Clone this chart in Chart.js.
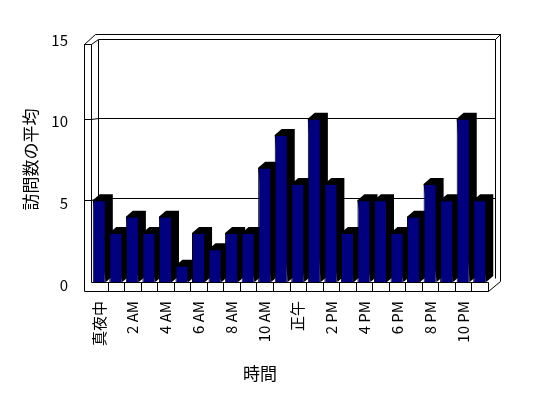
<!DOCTYPE html>
<html>
<head>
<meta charset="utf-8">
<script src="https://cdn.jsdelivr.net/npm/chart.js@4"></script>
<style>
  html, body { margin: 0; padding: 0; background: #fff; }
</style>
</head>
<body>
<canvas id="visits-chart" width="548" height="398"></canvas>
<script>
// Hour categories, only every other one gets a label on the axis
const hours = [
  "真夜中", "1 AM", "2 AM", "3 AM", "4 AM", "5 AM", "6 AM", "7 AM", "8 AM", "9 AM", "10 AM", "11 AM",
  "正午", "1 PM", "2 PM", "3 PM", "4 PM", "5 PM", "6 PM", "7 PM", "8 PM", "9 PM", "10 PM", "11 PM",
];
// Average visits per hour
const avgVisits = [5, 3, 4, 3, 4, 1, 3, 2, 3, 3, 7, 9, 6, 10, 6, 3, 5, 5, 3, 4, 6, 5, 10, 5];
const yTicks = [0, 5, 10, 15];
const yTitle = "訪問数の平均";
const xTitle = "時間";

const FONT = "'Noto Sans CJK JP', 'Noto Sans', sans-serif";

// 3D look (excel style walls and column depth)
const WALL = 7;          // thickness of left wall / floor slab
const BACK_DX = 7;       // back wall shift to the right
const BACK_DY = 4.5;     // back wall shift up
const BACK_SCALE = 0.974;
const BAR_DX = 7;
const BAR_DY = 6;

const px = (v) => Math.round(v) + 0.5;

function line(ctx, x1, y1, x2, y2) {
  ctx.beginPath();
  ctx.moveTo(x1, y1);
  ctx.lineTo(x2, y2);
  ctx.stroke();
}

const frame3d = {
  id: "frame3d",
  beforeDatasetsDraw(chart) {
    const ctx = chart.ctx;
    const { left, right, bottom } = chart.chartArea;
    const y = chart.scales.y;
    const x = chart.scales.x;
    const backY = (v) => bottom - BACK_DY - (bottom - y.getPixelForValue(v)) * BACK_SCALE;
    const bl = left + BACK_DX;
    const br = right + BACK_DX;
    const bT = backY(yTicks[yTicks.length - 1]);
    const wallTop = bT + 5;
    const floorBot = bottom + 9;

    ctx.save();
    ctx.lineWidth = 1;
    ctx.strokeStyle = "#000";

    // back wall
    line(ctx, px(bl), px(bT), px(br), px(bT));
    line(ctx, px(bl), px(bT), px(bl), px(bottom));
    line(ctx, px(br), px(bT), px(br), px(backY(0)));
    // top and right edge of the back wall slab
    line(ctx, px(left + 4), px(bT - 5), px(br + 5), px(bT - 5));
    line(ctx, px(br), px(bT), px(br + 5), px(bT - 5));
    line(ctx, px(br + 5), px(bT - 5), px(br + 5), px(bottom - 1));
    line(ctx, px(br + 5), px(bottom - 1), px(right), px(floorBot));

    // gridlines on the back wall, continued over the left wall
    yTicks.slice(1, -1).forEach((v) => {
      line(ctx, px(bl), px(backY(v)), px(br), px(backY(v)));
      line(ctx, px(left), px(y.getPixelForValue(v)), px(bl), px(backY(v)));
      line(ctx, px(left - WALL), px(y.getPixelForValue(v)), px(left), px(y.getPixelForValue(v)));
    });

    // left wall
    line(ctx, px(left - WALL), px(wallTop), px(left), px(wallTop));
    line(ctx, px(left - WALL), px(wallTop), px(left - WALL), px(floorBot));
    line(ctx, px(left), px(wallTop), px(left), px(bottom));
    line(ctx, px(left - WALL), px(wallTop), px(left + 4), px(bT - 5));
    line(ctx, px(left), px(wallTop), px(bl), px(bT));

    // floor slab
    line(ctx, px(left), px(bottom), px(right), px(bottom));
    line(ctx, px(left - WALL), px(floorBot), px(right), px(floorBot));
    line(ctx, px(right), px(bottom), px(right), px(floorBot));
    for (let i = 1; i < hours.length; i++) {
      const tx = (x.getPixelForValue(i - 1) + x.getPixelForValue(i)) / 2;
      line(ctx, px(tx), px(bottom), px(tx), px(floorBot));
    }

    // column depth: top and side faces
    ctx.fillStyle = "#000";
    chart.getDatasetMeta(0).data.forEach((bar) => {
      const { x: cx, y: top, base, width } = bar.getProps(["x", "y", "base", "width"], true);
      const l = cx - width / 2;
      const r = cx + width / 2;
      ctx.beginPath();
      ctx.moveTo(l, top);
      ctx.lineTo(l + BAR_DX, top - BAR_DY);
      ctx.lineTo(r + BAR_DX, top - BAR_DY);
      ctx.lineTo(r + BAR_DX, base - BAR_DY);
      ctx.lineTo(r, base);
      ctx.closePath();
      ctx.fill();
    });
    ctx.restore();
  },
  afterDraw(chart) {
    // x axis title sits left of the plot centre in the original
    const ctx = chart.ctx;
    ctx.save();
    ctx.font = "17px " + FONT;
    ctx.fillStyle = "#000";
    ctx.textAlign = "center";
    ctx.textBaseline = "middle";
    ctx.fillText(xTitle, 260, 374);
    ctx.restore();
  },
};

const ctx = document.getElementById("visits-chart").getContext("2d");
new Chart(ctx, {
  type: "bar",
  data: {
    labels: hours,
    datasets: [
      {
        label: yTitle,
        data: avgVisits,
        backgroundColor: "#000080",
        borderColor: "#000",
        borderWidth: 1,
        barPercentage: 0.79,
        categoryPercentage: 1,
      },
    ],
  },
  options: {
    responsive: false,
    animation: false,
    devicePixelRatio: 1,
    layout: {
      padding: { top: 37, right: 60, left: 0, bottom: 0 },
    },
    scales: {
      x: {
        grid: { display: false, drawTicks: false },
        border: { display: false },
        ticks: {
          autoSkip: false,
          minRotation: 90,
          maxRotation: 90,
          padding: 19,
          color: "#000",
          font: { family: FONT, size: 15 },
          callback: (v, i) => (i % 2 === 0 ? hours[i] : ""),
        },
        afterFit: (s) => {
          s.height = 116;
        },
      },
      y: {
        min: 0,
        max: 15,
        grid: { display: false, drawTicks: false },
        border: { display: false },
        ticks: {
          stepSize: 5,
          padding: 23,
          labelOffset: 3,
          color: "#000",
          font: { family: FONT, size: 15 },
        },
        title: {
          display: true,
          text: yTitle,
          color: "#000",
          font: { family: FONT, size: 17 },
          padding: { top: 20, bottom: 0 },
        },
        afterFit: (s) => {
          s.width = 91;
        },
      },
    },
    plugins: {
      legend: { display: false },
      tooltip: { enabled: false },
    },
  },
  plugins: [frame3d],
});
</script>
</body>
</html>
